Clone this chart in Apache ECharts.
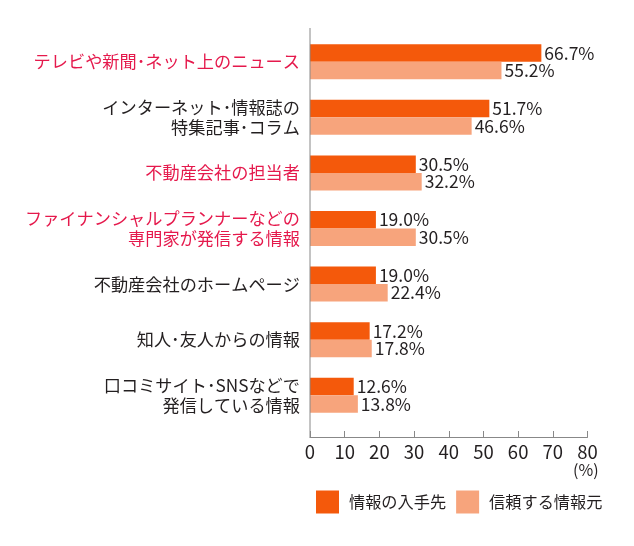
<!DOCTYPE html>
<html><head><meta charset="utf-8">
<script src="https://cdn.jsdelivr.net/npm/echarts@6/dist/echarts.min.js"></script>
<style>html,body{margin:0;padding:0;background:#fff}#c{width:634px;height:546px}</style>
</head><body><div id="c"></div>
<script>
const categories = [
  'テレビや新聞･ネット上のニュース',
  'インターネット･情報誌の\n特集記事･コラム',
  '不動産会社の担当者',
  'ファイナンシャルプランナーなどの\n専門家が発信する情報',
  '不動産会社のホームページ',
  '知人･友人からの情報',
  '口コミサイト･SNSなどで\n発信している情報'
];
const highlighted = [true, false, true, true, false, false, false];
const seriesNames = ['情報の入手先', '信頼する情報元'];
const sourceValues = [66.7, 51.7, 30.5, 19.0, 19.0, 17.2, 12.6];
const trustValues = [55.2, 46.6, 32.2, 30.5, 22.4, 17.8, 13.8];
const xTicks = [0, 10, 20, 30, 40, 50, 60, 70, 80];
const unitLabel = '(%)';

const FONT = '"Noto Sans CJK JP", "Noto Sans", sans-serif';
const TXT = '#231f20';
const RED = '#e5194c';
const W = 400;
const chart = echarts.init(document.getElementById('c'), null, {renderer: 'canvas'});

const valueLabel = {
  show: true, position: 'right', distance: 3,
  formatter: p => p.value.toFixed(1) + '%',
  color: TXT, fontSize: 17.5, fontFamily: FONT, fontWeight: W
};

chart.setOption({
  animation: false,
  textStyle: {fontFamily: FONT},
  grid: {left: 310, right: 46.5, top: 34, height: 389, containLabel: false},
  xAxis: {
    type: 'value', min: xTicks[0], max: xTicks[xTicks.length - 1], interval: 10,
    offset: 14,
    axisLine: {show: true, lineStyle: {color: '#888', width: 1}},
    axisTick: {show: true, inside: true, length: 6, lineStyle: {color: '#888'}},
    splitLine: {show: false},
    axisLabel: {color: TXT, fontSize: 18.5, fontFamily: FONT, fontWeight: W, margin: 6}
  },
  yAxis: {
    type: 'category', inverse: true, data: categories,
    axisLine: {show: false}, axisTick: {show: false},
    axisLabel: {
      margin: 10, fontSize: 17.2, lineHeight: 20, fontFamily: FONT, align: 'right',
      formatter: (v, i) => v.split('\n').map(s => (highlighted[i] ? '{r|' : '{k|') + s + '}').join('\n'),
      rich: {
        r: {color: RED, fontSize: 17.2, lineHeight: 20, fontFamily: FONT, fontWeight: W},
        k: {color: TXT, fontSize: 17.2, lineHeight: 20, fontFamily: FONT, fontWeight: W}
      }
    }
  },
  legend: {
    left: 316, top: 490.5, padding: 0, itemWidth: 23, itemHeight: 23, itemGap: 10,
    icon: 'rect',
    textStyle: {color: TXT, fontSize: 16.2, fontFamily: FONT, fontWeight: W, padding: [0, 0, 0, 5]},
    data: seriesNames
  },
  graphic: [
    {type: 'line', shape: {x1: 310, y1: 28, x2: 310, y2: 437.5}, style: {stroke: '#888', lineWidth: 1}, z: 10},
    {type: 'text', left: 573, top: 462, style: {text: unitLabel, fill: TXT, fontSize: 16, fontFamily: FONT, fontWeight: W}}
  ],
  series: [
    {name: seriesNames[0], type: 'bar', data: sourceValues, barWidth: 17.5, barGap: '0%',
      itemStyle: {color: '#f4590b'}, label: valueLabel},
    {name: seriesNames[1], type: 'bar', data: trustValues, barWidth: 17.5, barGap: '0%',
      itemStyle: {color: '#f7a47c'}, label: valueLabel}
  ]
});
</script></body></html>
